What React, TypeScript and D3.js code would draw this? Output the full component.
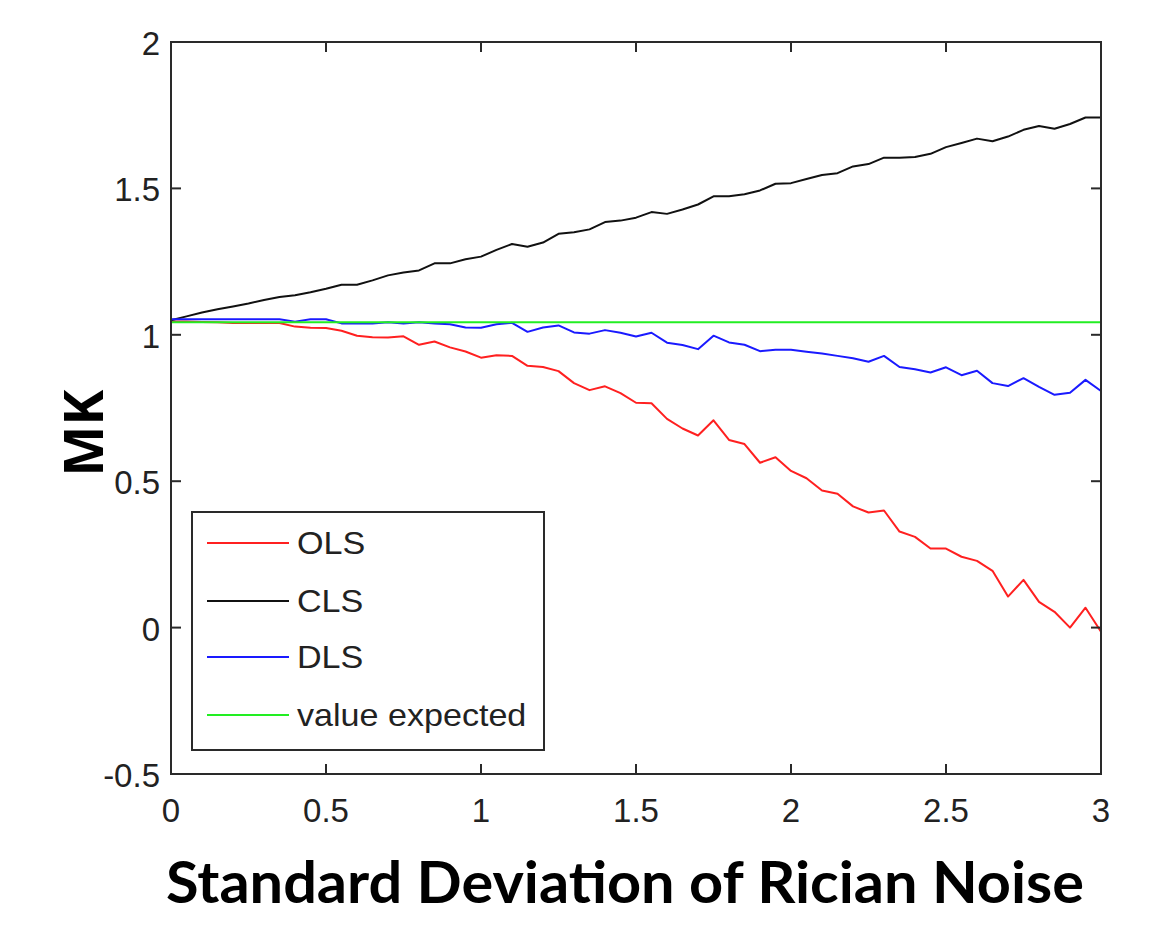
import React from "react";
import * as d3 from "d3";

const xValues: number[] = d3.range(0, 61).map((i) => i * 0.05);

const olsValues: number[] = [
  1.045, 1.045, 1.044, 1.043, 1.04, 1.04, 1.04, 1.04, 1.028, 1.024,
  1.023, 1.014, 0.997, 0.992, 0.991, 0.995, 0.966, 0.977, 0.957, 0.943,
  0.922, 0.93, 0.928, 0.894, 0.89, 0.876, 0.835, 0.811, 0.824, 0.801,
  0.768, 0.766, 0.713, 0.68, 0.656, 0.708, 0.641, 0.627, 0.563, 0.582,
  0.535, 0.51, 0.468, 0.457, 0.414, 0.393, 0.4, 0.328, 0.31, 0.27,
  0.27, 0.242, 0.228, 0.194, 0.106, 0.163, 0.088, 0.054, 0.0, 0.068,
  -0.014,
];

const clsValues: number[] = [
  1.05, 1.063, 1.076, 1.087, 1.097, 1.107, 1.119, 1.129, 1.135, 1.145,
  1.157, 1.171, 1.171, 1.186, 1.203, 1.213, 1.22, 1.244, 1.244, 1.258,
  1.267, 1.29, 1.31, 1.301, 1.315, 1.345, 1.35, 1.36, 1.385, 1.39,
  1.4, 1.419, 1.413, 1.428, 1.445, 1.473, 1.473, 1.48, 1.493, 1.516,
  1.518, 1.532, 1.546, 1.552, 1.575, 1.583, 1.605, 1.605, 1.607, 1.618,
  1.641, 1.655, 1.67, 1.661, 1.677, 1.7, 1.713, 1.704, 1.72, 1.742,
  1.742,
];

const dlsValues: number[] = [
  1.053, 1.053, 1.053, 1.053, 1.053, 1.053, 1.053, 1.053, 1.045, 1.053,
  1.053, 1.039, 1.039, 1.039, 1.043, 1.039, 1.043, 1.039, 1.036, 1.025,
  1.024, 1.036, 1.041, 1.01, 1.025, 1.032, 1.008, 1.004, 1.016, 1.007,
  0.994, 1.007, 0.973, 0.965, 0.951, 0.997, 0.974, 0.966, 0.944, 0.949,
  0.949, 0.942, 0.936, 0.928, 0.92, 0.908, 0.928, 0.89, 0.882, 0.871,
  0.889, 0.862, 0.877, 0.835, 0.825, 0.852, 0.822, 0.795, 0.802, 0.846,
  0.808,
];

const expectedValue = 1.043;

const xTicks: number[] = [0, 0.5, 1, 1.5, 2, 2.5, 3];
const yTicks: number[] = [-0.5, 0, 0.5, 1, 1.5, 2];

const seriesNames: string[] = ["OLS", "CLS", "DLS", "value expected"];
const seriesColors: string[] = ["#ff2020", "#111111", "#1a1aff", "#22ee22"];

const xTitle = "Standard Deviation of Rician Noise";
const yTitle = "MK";

export default function App() {
  const left = 171;
  const right = 1101;
  const top = 42;
  const bottom = 774;

  const x = d3.scaleLinear().domain([0, 3]).range([left, right]);
  const y = d3.scaleLinear().domain([-0.5, 2]).range([bottom, top]);

  const line = d3
    .line<number>()
    .x((_, i) => x(xValues[i]))
    .y((d) => y(d));

  const expected = xValues.map(() => expectedValue);
  const series = [olsValues, clsValues, dlsValues, expected];

  const axisColor = "#2a2a2a";
  const tickLen = 10;
  const tickFont = "'Liberation Sans', Arial, sans-serif";

  const legendX = 192;
  const legendY = 512;
  const legendW = 352;
  const legendH = 238;
  const legendRows = [543, 601, 657, 715];

  return (
    <svg
      width={1158}
      height={928}
      style={{ display: "block", position: "absolute", left: 0, top: 0 }}
    >
      <rect x={0} y={0} width={1158} height={928} fill="#ffffff" />

      {/* series */}
      {series.map((s, i) => (
        <path
          key={seriesNames[i]}
          d={line(s) || ""}
          fill="none"
          stroke={seriesColors[i]}
          strokeWidth={2}
          strokeLinejoin="round"
        />
      ))}

      {/* axes box */}
      <rect
        x={left}
        y={top}
        width={right - left}
        height={bottom - top}
        fill="none"
        stroke={axisColor}
        strokeWidth={2}
      />

      {/* x ticks */}
      {xTicks.map((t) => (
        <g key={"xt" + t}>
          <line x1={x(t)} x2={x(t)} y1={bottom} y2={bottom - tickLen} stroke={axisColor} strokeWidth={2} />
          <line x1={x(t)} x2={x(t)} y1={top} y2={top + tickLen} stroke={axisColor} strokeWidth={2} />
          <text
            x={x(t)}
            y={822}
            textAnchor="middle"
            fontFamily={tickFont}
            fontSize={33}
            fill="#222"
          >
            {String(t)}
          </text>
        </g>
      ))}

      {/* y ticks */}
      {yTicks.map((t) => (
        <g key={"yt" + t}>
          <line x1={left} x2={left + tickLen} y1={y(t)} y2={y(t)} stroke={axisColor} strokeWidth={2} />
          <line x1={right} x2={right - tickLen} y1={y(t)} y2={y(t)} stroke={axisColor} strokeWidth={2} />
          <text
            x={160}
            y={y(t) + 13}
            textAnchor="end"
            fontFamily={tickFont}
            fontSize={33}
            fill="#222"
          >
            {String(t)}
          </text>
        </g>
      ))}

      {/* legend */}
      <rect
        x={legendX}
        y={legendY}
        width={legendW}
        height={legendH}
        fill="#ffffff"
        stroke={axisColor}
        strokeWidth={2}
      />
      {seriesNames.map((name, i) => (
        <g key={"lg" + name}>
          <line
            x1={207}
            x2={289}
            y1={legendRows[i]}
            y2={legendRows[i]}
            stroke={seriesColors[i]}
            strokeWidth={2}
          />
          <text
            transform={`translate(297, ${legendRows[i] + 11}) scale(1.1, 1)`}
            fontFamily={tickFont}
            fontSize={31}
            fill="#222"
          >
            {name}
          </text>
        </g>
      ))}

      {/* axis titles */}
      <text
        x={625}
        y={903}
        textAnchor="middle"
        fontFamily="Lato, 'Open Sans', sans-serif"
        fontWeight="bold"
        fontSize={58}
        textLength={918}
        lengthAdjust="spacingAndGlyphs"
        fill="#000"
      >
        {xTitle}
      </text>
      <text
        transform="translate(103, 433) rotate(-90)"
        textAnchor="middle"
        fontFamily="'Open Sans', 'Noto Sans', sans-serif"
        fontWeight="bold"
        fontSize={54}
        fill="#000"
      >
        {yTitle}
      </text>
    </svg>
  );
}
